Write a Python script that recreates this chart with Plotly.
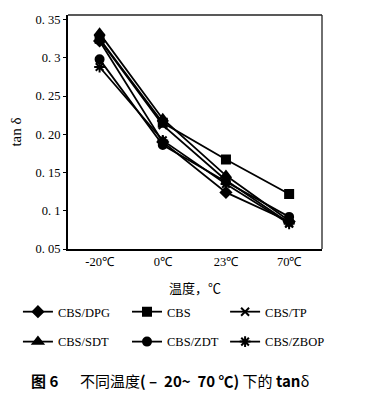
import plotly.graph_objects as go

categories = ["-20℃", "0℃", "23℃", "70℃"]
series_names = ["CBS/DPG", "CBS", "CBS/TP", "CBS/SDT", "CBS/ZDT", "CBS/ZBOP"]
cbs_dpg = [0.322, 0.190, 0.124, 0.086]
cbs = [0.325, 0.215, 0.167, 0.122]
cbs_tp = [0.324, 0.212, 0.140, 0.084]
cbs_sdt = [0.332, 0.220, 0.146, 0.087]
cbs_zdt = [0.298, 0.186, 0.138, 0.092]
cbs_zbop = [0.288, 0.192, 0.135, 0.083]
y_ticks = [0.05, 0.1, 0.15, 0.20, 0.25, 0.3, 0.35]
y_tick_text = ["0. 05", "0. 1", "0. 15", "0. 20", "0. 25", "0. 3", "0. 35"]

values = [cbs_dpg, cbs, cbs_tp, cbs_sdt, cbs_zdt, cbs_zbop]
symbols = ["diamond", "square", "x-thin-open", "triangle-up", "circle", "asterisk-open"]
sizes = [8, 8, 8, 9, 8, 9]
legend_ids = ["legend", "legend2", "legend3", "legend4", "legend5", "legend6"]
legend_x = [0.049, 0.347, 0.615, 0.049, 0.347, 0.615]
legend_y = [0.208, 0.208, 0.208, 0.132, 0.132, 0.132]

serif = "Liberation Serif"

fig = go.Figure()
for name, vals, sym, sz, lg in zip(series_names, values, symbols, sizes, legend_ids):
    fig.add_trace(go.Scatter(
        x=categories, y=vals, name=name, mode="lines+markers", legend=lg,
        line=dict(color="black", width=1.8),
        marker=dict(symbol=sym, size=sz, color="black",
                    line=dict(color="black", width=2)),
    ))

legends = {}
for lg, lx, ly in zip(legend_ids, legend_x, legend_y):
    legends[lg] = dict(x=lx, y=ly, xref="container", yref="container",
                       xanchor="left", yanchor="middle", orientation="h",
                       font=dict(family=serif, size=12.5), itemwidth=30,
                       bgcolor="rgba(0,0,0,0)", borderwidth=0)

fig.update_layout(
    width=366, height=394,
    margin=dict(l=68, r=44, t=15, b=145, autoexpand=False),
    paper_bgcolor="white", plot_bgcolor="white",
    font=dict(family=serif, size=12, color="black"),
    showlegend=True,
    **legends,
    xaxis=dict(type="category", range=[-0.5, 3.52], showline=True, linecolor="black",
               linewidth=2, mirror=False, ticks="", showgrid=False,
               tickfont=dict(family=serif, size=12.5),
               title=dict(text="温度，℃", font=dict(family="Noto Sans CJK SC", size=13), standoff=16)),
    yaxis=dict(range=[0.05, 0.356], tickvals=y_ticks, ticktext=y_tick_text,
               showline=True, linecolor="black", linewidth=2, mirror=False,
               ticks="outside", ticklen=3, tickcolor="black", showgrid=False,
               zeroline=False, tickfont=dict(family=serif, size=12.5),
               title=dict(text="tan δ", font=dict(family=serif, size=15), standoff=10)),
    shapes=[
        dict(type="line", xref="paper", yref="paper", x0=0, x1=1, y0=1, y1=1,
             line=dict(color="#222", width=1.3)),
        dict(type="line", xref="paper", yref="paper", x0=1, x1=1, y0=0, y1=1,
             line=dict(color="#222", width=1.3)),
    ],
)

fig.add_annotation(
    text="<b>图 6</b>　  不同温度<b>( –  20~  70 ℃)</b> 下的 <b>tan</b>δ",
    xref="paper", yref="paper", x=0.40, y=-0.56, xanchor="center", yanchor="middle",
    showarrow=False, font=dict(family="Noto Sans CJK SC", size=15, color="black"),
)

fig.write_html("out.html", config={"displayModeBar": False},
               post_script="document.body.style.margin='0';")
